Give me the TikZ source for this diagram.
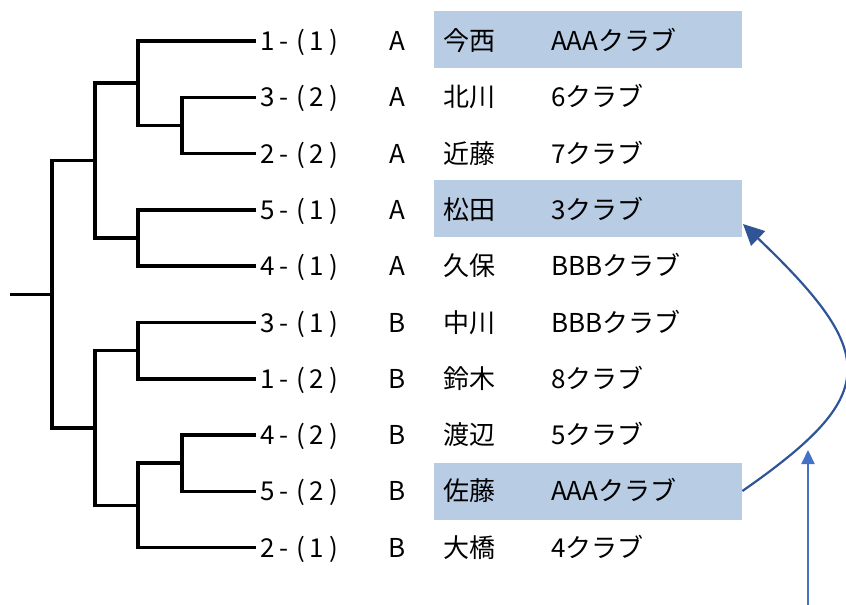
\documentclass[tikz,border=0pt]{standalone}
\usepackage{fontspec}
\setmainfont{Noto Sans CJK JP}
\usetikzlibrary{arrows.meta}
\definecolor{hlblue}{HTML}{B8CCE4}
\definecolor{arrdark}{HTML}{2F5597}
\definecolor{arrlight}{HTML}{4472C4}
\def\spaced#1{\hspace{3pt}\spacedi#1\relax}
\def\spacedi#1{\ifx#1\relax\else\makebox[16.5pt]{#1}\expandafter\spacedi\fi}
\begin{document}
\begin{tikzpicture}[x=1pt,y=-1pt,
  txt/.style={inner sep=0pt, text height=19pt, text depth=0pt, font=\fontsize{26}{30}\selectfont},
  tree/.style={line width=3.5pt},
  hl/.style={fill=hlblue, draw=none, minimum width=308pt, minimum height=57pt, anchor=west, inner sep=0pt},
  carrow/.style={draw=arrdark, line width=2.2pt, -{Triangle[length=21pt,width=20pt]}},
  sarrow/.style={draw=arrlight, line width=2.2pt, -{Triangle[length=14pt,width=13pt]}}]
\useasboundingbox (0,0) rectangle (846,605);
% highlight boxes
\node[hl] (box1) at (434,39) {};
\node[hl] (box4) at (434,208.5) {};
\node[hl] (box9) at (434,491) {};
% rows
\foreach \i/\nu/\g/\nm/\cl in {1/{1-(1)}/A/今西/AAAクラブ, 2/{3-(2)}/A/北川/6クラブ, 3/{2-(2)}/A/近藤/7クラブ, 4/{5-(1)}/A/松田/3クラブ, 5/{4-(1)}/A/久保/BBBクラブ, 6/{3-(1)}/B/中川/BBBクラブ, 7/{1-(2)}/B/鈴木/8クラブ, 8/{4-(2)}/B/渡辺/5クラブ, 9/{5-(2)}/B/佐藤/AAAクラブ, 10/{2-(1)}/B/大橋/4クラブ}{
  \pgfmathsetmacro\yy{41+56.3*(\i-1)}
  \node[txt, anchor=west] (n\i) at (256,\yy) {\expandafter\spaced\expandafter{\nu}};
  \node[txt] (g\i) at (397,\yy) {\g};
  \node[txt, anchor=west] (m\i) at (443,\yy) {\nm};
  \node[txt, anchor=west] (c\i) at (551,\yy) {\cl};
}
% junctions
\coordinate (j23) at (182,125.4);
\coordinate (j1) at (138,83.2);
\coordinate (j45) at (138,238);
\coordinate (jt) at (95,160.6);
\coordinate (j67) at (138,350.6);
\coordinate (j89) at (182,463.2);
\coordinate (j810) at (138,505.5);
\coordinate (jb) at (95,428);
\coordinate (jr) at (52,294.3);
\coordinate (rs) at (10,294.3);
\draw[tree] (n2.west) -| (j23) |- (n3.west);
\draw[tree] (n1.west) -| (j1) |- (j23);
\draw[tree] (n4.west) -| (j45) |- (n5.west);
\draw[tree] (j1) -| (jt) |- (j45);
\draw[tree] (n6.west) -| (j67) |- (n7.west);
\draw[tree] (n8.west) -| (j89) |- (n9.west);
\draw[tree] (j89) -| (j810) |- (n10.west);
\draw[tree] (j67) -| (jb) |- (j810);
\draw[tree] (jt) -| (jr) |- (jb);
\draw[tree] (rs) -- (jr);
% arrows
\coordinate (tip4) at (743,224);
\draw[carrow] (box9.east) .. controls (880,395) and (880,355) .. (tip4);
\coordinate (vb) at (808,605);
\coordinate (vt) at (808,450);
\draw[sarrow] (vb) -- (vt);
\end{tikzpicture}
\end{document}
